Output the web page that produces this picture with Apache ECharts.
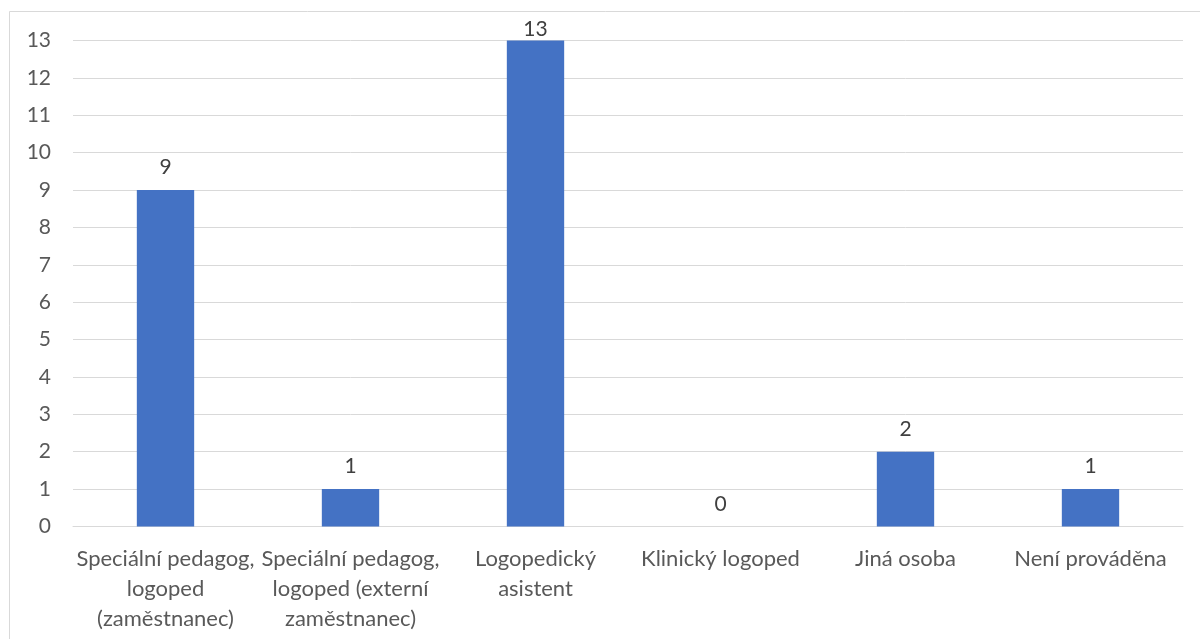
<!DOCTYPE html>
<html><head><meta charset="utf-8">
<script src="https://cdn.jsdelivr.net/npm/echarts@6/dist/echarts.min.js"></script>
<style>html,body{margin:0;padding:0;background:#fff}#c{width:1200px;height:639px}</style>
</head><body><div id="c"></div>
<script>
const categories = ["Speciální pedagog,\nlogoped\n(zaměstnanec)", "Speciální pedagog,\nlogoped (externí\nzaměstnanec)", "Logopedický\nasistent", "Klinický logoped", "Jiná osoba", "Není prováděna"];
const values = [9, 1, 13, 0, 2, 1];
const yMin = 0, yMax = 13, yStep = 1;
const FONT = 'Lato';
const chart = echarts.init(document.getElementById('c'), null, {renderer: 'canvas'});
chart.setOption({
  animation: false,
  backgroundColor: '#fff',
  graphic: [{type: 'rect', shape: {x: 9.5, y: 11.5, width: 1300, height: 700}, style: {fill: 'none', stroke: '#d9d9d9', lineWidth: 1}, silent: true, z: -1}],
  grid: {left: 73, right: 17, top: 40.5, bottom: 112.5},
  xAxis: {
    type: 'category', data: categories,
    axisLine: {show: true, lineStyle: {color: '#d9d9d9', width: 1}},
    axisTick: {show: false},
    axisLabel: {color: '#595959', fontFamily: FONT, fontSize: 22, lineHeight: 30, margin: 17, interval: 0}
  },
  yAxis: {
    type: 'value', min: yMin, max: yMax, interval: yStep,
    axisLine: {show: false}, axisTick: {show: false},
    splitLine: {lineStyle: {color: '#d9d9d9', width: 1}},
    axisLabel: {color: '#595959', fontFamily: FONT, fontSize: 21, margin: 22}
  },
  series: [{
    type: 'bar',
    data: values.map(v => v >= yMax ? {value: v, label: {distance: 1}} : v),
    barWidth: '31%',
    itemStyle: {color: '#4472c4'},
    label: {show: true, position: 'top', distance: 12, color: '#404040', fontFamily: FONT, fontSize: 21}
  }]
});
</script></body></html>
